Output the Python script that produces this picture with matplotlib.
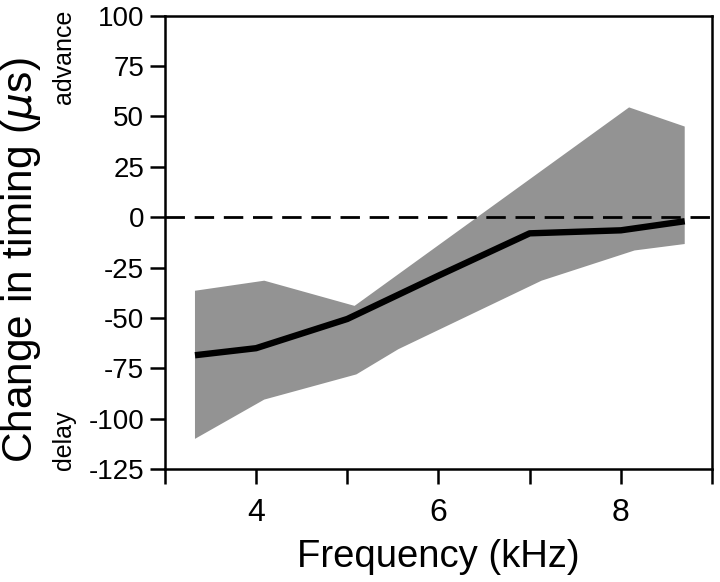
import matplotlib
matplotlib.use("Agg")
import matplotlib.pyplot as plt
from matplotlib.ticker import MultipleLocator

plt.rcParams['font.family'] = ['Liberation Sans', 'DejaVu Sans']
plt.rcParams['axes.unicode_minus'] = False

# mean change in timing
freq = [3.33, 4.0, 5.0, 6.0, 7.0, 8.0, 8.70]
timing = [-68.5, -65, -50.5, -29, -8, -6.5, -2]

# spread band (upper and lower edges)
upper_freq = [3.33, 4.09, 5.08, 8.09, 8.70]
upper_val = [-36.5, -31.5, -44, 54.5, 45]
lower_freq = [3.33, 4.09, 5.10, 5.56, 7.13, 8.15, 8.70]
lower_val = [-110, -90.5, -78, -65.5, -31.5, -16.5, -13.3]

fig = plt.figure(figsize=(7.2, 5.82), dpi=100)
ax = fig.add_axes([0.229, 0.194, 0.760, 0.779])

band_x = upper_freq + lower_freq[::-1]
band_y = upper_val + lower_val[::-1]
ax.fill(band_x, band_y, color='#939393', lw=0, zorder=1)

ax.axhline(0, color='black', lw=2, ls=(0, (7, 3.5)), zorder=2)
ax.plot(freq, timing, color='black', lw=4.6, solid_capstyle='butt', zorder=3)

ax.set_xlim(3, 9)
ax.set_ylim(-125, 100)
ax.xaxis.set_major_locator(MultipleLocator(2))
ax.xaxis.set_minor_locator(MultipleLocator(1))
ax.yaxis.set_major_locator(MultipleLocator(25))

ax.tick_params(which='both', direction='out', top=False, right=False,
               width=1.8, length=11, labelsize=20)
ax.tick_params(axis='y', pad=4)
ax.tick_params(axis='x', which='both', pad=10)
ax.tick_params(axis='x', which='major', labelsize=23)
for s in ax.spines.values():
    s.set_linewidth(1.8)

ax.set_xlabel('Frequency (kHz)', fontsize=27.5, labelpad=8)
ax.set_ylabel(r'Change in timing ($\mu$s)', fontsize=30.5)
ax.yaxis.set_label_coords(-0.222, 0.461)

ax.text(-0.185, 1.013, 'advance', transform=ax.transAxes, rotation=90,
        ha='center', va='top', fontsize=18)
ax.text(-0.185, -0.002, 'delay', transform=ax.transAxes, rotation=90,
        ha='center', va='bottom', fontsize=18)

fig.savefig('out.png', dpi=100)
